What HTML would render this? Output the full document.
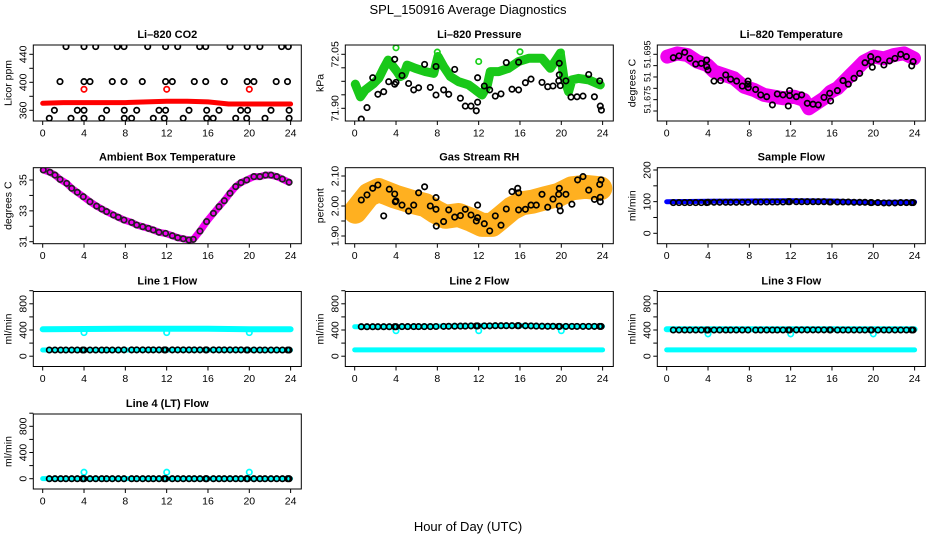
<!DOCTYPE html>
<html><head><meta charset="utf-8"><style>
html,body{margin:0;padding:0;background:#fff;}
svg{display:block;font-family:"Liberation Sans",Arial,sans-serif;}
</style></head><body>
<svg id="chart" width="936" height="540" viewBox="0 0 936 540" xmlns="http://www.w3.org/2000/svg">
<text x="468" y="14" text-anchor="middle" font-size="13">SPL_150916  Average Diagnostics</text>
<text x="468" y="531" text-anchor="middle" font-size="13">Hour of Day (UTC)</text>
</svg>
<script>
// ---------- data ----------
const xTicks = [0,4,8,12,16,20,24];
// CO2
const co2RedH = [0,2,5,8,12,14,16,18,21,24];
const co2RedV = [370,371,371,371,373,373,372,369,369,369];
const co2RedPtH = [4,12,20];
const co2RedPtV = [390,390,390];
const co2BlkH = [2.26,4.0,5.13,7.22,7.87,10.16,11.9,13.07,15.2,15.78,18.13,19.8,21.03,23.13,23.78,
 1.67,4.0,4.58,6.74,7.87,9.64,11.9,12.55,14.68,15.78,17.58,19.8,20.45,22.6,23.7,
 1.13,3.35,4.0,6.19,7.9,9.1,11.26,11.9,14.16,15.88,17.07,19.17,19.84,22.1,23.85,
 0.64,2.74,4.0,5.71,7.9,8.61,10.71,11.77,13.6,15.88,16.51,18.68,19.75,21.52,23.85];
const co2BlkV = [451,451,451,451,451,451,451,451,451,451,451,451,451,451,451,
 401,401,401,401,401,401,401,401,401,401,401,401,401,401,401,
 360,360,360,360,360,360,360,360,360,360,360,360,360,360,360,
 348.6,348.6,348.6,348.6,348.6,348.6,348.6,348.6,348.6,348.6,348.6,348.6,348.6,348.6,348.6];
// Pressure
const prGreenH = [0.06,0.55,1.03,1.84,2.32,2.81,3.23,3.61,4.1,4.42,4.74,5.07,5.87,6.84,7.65,8.06,8.61,9.26,10.06,11.03,11.68,12.32,12.81,13.13,13.94,14.9,15.87,16.84,18.13,18.94,19.58,19.9,20.23,20.71,21.03,21.68,22.65,23.78];
const prGreenV = [71.967,71.932,71.951,71.969,71.983,72.011,72.034,72.02,72.002,71.988,71.993,72.02,72.011,72.002,71.997,72.044,72.016,71.988,71.974,71.965,71.951,71.937,71.96,72.002,72.002,72.011,72.03,72.039,72.039,72.011,72.039,72.053,71.988,71.946,71.979,71.983,71.979,71.965];
const prGreenPtH = [4.0,8.0,12.0,16.0,20.0];
const prGreenPtV = [72.068,72.056,72.03,72.057,72.056];
const prBlkH = [0.64,1.19,1.74,2.25,2.81,3.29,3.87,3.87,4.0,4.58,5.22,5.71,6.19,6.77,7.32,7.87,7.87,8.61,9.1,9.68,10.23,10.71,11.26,11.77,11.9,11.9,12.55,13.07,13.61,14.16,14.68,15.23,15.87,15.87,16.52,17.07,18.13,18.68,19.2,19.75,19.81,19.81,19.9,20.45,20.94,21.52,22.1,22.65,23.2,23.72,23.78,23.88];
const prBlkV = [71.870,71.902,71.985,71.939,71.946,71.974,71.967,72.036,71.972,71.991,71.969,71.951,71.957,72.022,71.958,71.937,72.016,71.951,71.939,72.008,71.928,71.906,71.906,71.893,71.917,71.985,71.962,71.951,71.934,71.94,72.027,71.953,71.951,72.028,71.971,71.981,71.972,71.96,71.962,71.976,71.993,72.025,71.963,71.976,71.931,71.932,71.934,71.994,71.932,71.976,71.906,71.895];
// Li-820 temperature
const tmpBandH = [0.06,1.03,2.0,2.97,3.93,4.58,5.55,6.52,7.48,8.45,9.42,10.39,11.35,12.32,13.29,13.77,14.26,15.23,15.87,16.52,17.16,17.81,18.45,19.1,20.06,21.03,22.0,22.97,23.94];
const tmpBandV = [51.6940,51.6954,51.6947,51.6918,51.6903,51.6874,51.6859,51.6844,51.6807,51.6793,51.6771,51.6763,51.6756,51.6763,51.6749,51.6712,51.6727,51.6756,51.6785,51.6800,51.6829,51.6859,51.6888,51.6918,51.6940,51.6932,51.6947,51.6954,51.6932];
const tmpBlkH = [0.64,1.19,1.74,2.25,2.81,3.35,3.87,3.87,4.0,4.58,5.22,5.71,6.19,6.77,7.32,7.87,7.87,7.9,8.61,9.1,9.68,10.23,10.71,11.26,11.77,11.9,11.9,12.55,13.07,13.61,14.16,14.68,15.23,15.78,15.87,16.52,17.07,17.58,18.13,18.68,19.2,19.75,19.81,19.9,20.45,21.03,21.58,22.1,22.65,23.2,23.72,23.85];
const tmpBlkV = [51.6935,51.6943,51.6959,51.6932,51.6907,51.6910,51.6925,51.6896,51.6881,51.6832,51.6834,51.6859,51.6840,51.6832,51.6810,51.6818,51.6832,51.6803,51.6795,51.6771,51.6763,51.6727,51.6775,51.6771,51.6722,51.6790,51.6768,51.6763,51.6771,51.6734,51.6730,51.6727,51.6760,51.6778,51.6744,51.6790,51.6834,51.6818,51.6844,51.6866,51.6913,51.6940,51.6918,51.6893,51.6928,51.6903,51.6921,51.6932,51.6950,51.6940,51.6899,51.6918];
// Ambient box temperature
const ambH = [0.06,0.71,1.19,1.68,2.32,2.81,3.35,3.93,4.58,5.22,5.71,6.19,6.84,7.32,7.87,8.61,9.1,9.68,10.23,10.71,11.26,11.9,12.55,13.07,13.61,14.16,14.58,15.23,15.87,16.52,17.07,17.58,18.13,18.68,19.2,19.75,20.45,21.03,21.58,22.1,22.65,23.2,23.85];
const ambV = [35.65,35.50,35.32,35.04,34.78,34.46,34.20,33.92,33.59,33.31,33.12,32.95,32.73,32.58,32.41,32.25,32.08,31.97,31.86,31.76,31.61,31.54,31.39,31.26,31.19,31.11,31.15,31.69,32.30,32.84,33.27,33.66,34.14,34.57,34.83,35.0,35.22,35.22,35.32,35.32,35.22,35.06,34.85];
// Gas stream RH
const rhBandH = [0.06,1.35,2.32,3.93,5.55,6.84,7.81,8.77,10.06,11.35,12.32,13.29,14.26,15.23,16.19,17.16,18.45,19.74,21.03,22.32,23.78];
const rhBandV = [1.981,2.037,2.053,2.031,2.014,2.003,1.981,1.964,1.970,1.953,1.937,1.937,1.964,1.992,2.009,2.014,2.026,2.037,2.059,2.064,2.059];
const rhBlkH = [0.64,1.19,1.74,2.25,2.81,3.35,3.87,3.93,4.0,4.58,5.22,5.71,6.19,6.77,7.32,7.87,7.87,7.9,8.61,9.1,9.68,10.23,10.71,11.26,11.77,11.9,11.9,12.55,13.07,13.61,14.16,14.68,15.23,15.78,15.87,15.87,16.52,17.07,17.58,18.13,18.68,19.2,19.75,19.81,19.81,19.9,20.45,21.03,21.58,22.1,22.65,23.2,23.72,23.85,23.78,23.78];
const rhBlkV = [2.020,2.037,2.059,2.070,1.967,2.056,2.040,2.014,2.017,2.003,1.983,2.003,2.044,2.064,2.0,2.028,1.989,1.933,1.948,1.987,1.963,1.968,1.989,1.970,1.950,2.003,1.961,1.941,1.917,1.967,1.936,1.990,2.048,2.059,2.044,1.987,1.989,2.003,2.003,2.039,1.996,2.023,2.039,2.059,2.0,1.984,2.039,2.006,2.087,2.098,2.053,2.022,2.072,2.087,2.029,2.014];
// flows
const bandH = [0,4,8,12,16,20,24];
const hFlow = [0.64,1.19,1.74,2.25,2.81,3.35,3.87,4.0,4.58,5.13,5.71,6.19,6.74,7.32,7.87,8.61,9.1,9.68,10.23,10.71,11.26,11.77,11.9,12.55,13.07,13.61,14.16,14.68,15.23,15.78,15.87,16.52,17.07,17.58,18.13,18.68,19.2,19.75,19.84,20.45,21.03,21.52,22.1,22.65,23.2,23.72,23.85];
const dipH = [4,12,20];
const sfBlueV = [100,101,102,103,102,97,99];
const sfBlkV = [97,97,97,97,97,97,97,98,98,98,98,98,98,98,98,99,99,99,99,99,99,100,100,100,100,100,100,100,100,99,99,99,99,99,98,98,98,97,97,97,96,96,96,97,97,97,97];
const l1TopV = [410,415,418,420,420,412,410];
const l1LowV = [95,95,95,95,95,95,95];
const l1BlkV = [95,95,95,95,95,95,95,95,95,95,95,95,95,95,96,96,96,96,96,96,96,96,96,96,96,96,96,96,96,96,96,96,96,96,96,96,96,95,95,95,95,95,95,95,95,95,95];
const l1DipV = [360,360,360];
const l2TopV = [450,452,458,462,465,458,455];
const l2LowV = [96,96,96,96,96,96,96];
const l2BlkV = [450,450,450,450,450,450,450,450,452,452,452,452,452,452,454,455,456,458,460,460,462,462,462,462,463,465,465,466,466,466,465,464,462,460,458,456,456,455,455,455,455,455,455,455,455,455,455];
const l2DipV = [390,390,390];
const l3TopV = [410,410,410,412,412,410,410];
const l3LowV = [96,96,96,96,96,96,96];
const l3BlkV = [400,400,400,400,400,400,400,400,400,400,400,400,400,400,400,400,400,400,400,400,400,400,400,402,402,402,402,402,402,402,402,400,400,400,400,400,400,400,400,400,400,400,400,400,400,400,400];
const l3DipV = [340,340,340];
const l4CyanV = [2,2,2,2,2,2,2];
const l4BlkV = [0,0,0,0,0,0,0,0,0,0,0,0,0,0,0,0,0,0,0,0,0,0,0,0,0,0,0,0,0,0,0,0,0,0,0,0,0,0,0,0,0,0,0,0,0,0,0];
const l4DipV = [100,100,100];

// ---------- layout ----------
const NS = "http://www.w3.org/2000/svg";
const svg = document.getElementById("chart");
const colL = [33.3, 345.3, 657.3], rowT = [45, 167.7, 291.5, 414];
const PW = 268, X0OFF = 9.4, PXH = 10.33;
function mk(tag, attrs, parent){ const e=document.createElementNS(NS,tag); for(const k in attrs) e.setAttribute(k,attrs[k]); (parent||svg).appendChild(e); return e; }

function panel(cfg){
  const L=colL[cfg.col], T=rowT[cfg.row], H=cfg.h||76;
  const g = mk("g",{});
  
  
  const xs = h => L + X0OFF + h*PXH;
  const [v1,p1,v2,p2] = cfg.yref;
  const ys = v => T + p1 + (v - v1)*(p2-p1)/(v2-v1);
  const clip = mk("clipPath",{id:"c"+cfg.name},g);
  mk("rect",{x:L,y:T,width:PW,height:H},clip);
  const plot = mk("g",{"clip-path":"url(#c"+cfg.name+")"},g);
  cfg.series.forEach(s=>{
    if(s.type==="band"){
      const pts = s.h.map((h,i)=>xs(h).toFixed(1)+","+ys(s.v[i]).toFixed(1)).join(" ");
      const pl = mk("polyline",{points:pts,fill:"none",stroke:s.color,"stroke-width":s.w,"stroke-linejoin":"round","stroke-linecap":"round"},plot);
      
      
    } else {
      s.h.forEach((h,i)=>{
        const c = mk("circle",{cx:xs(h).toFixed(1),cy:ys(s.v[i]).toFixed(1),r:s.r||2.7,fill:"none",stroke:s.color,"stroke-width":s.sw||1.7},plot);
        
        
      });
    }
  });
  const box = mk("rect",{x:L,y:T,width:PW,height:H,fill:"none",stroke:"#000","stroke-width":1},g);
  
  
  xTicks.forEach(t=>{
    mk("line",{x1:xs(t),x2:xs(t),y1:T+H,y2:T+H+4,stroke:"#000","stroke-width":1},g);
    const tx = mk("text",{x:xs(t),y:T+H+15.5,"text-anchor":"middle","font-size":10.5},g);
    tx.textContent = t;
    
    
  });
  cfg.yticks.forEach(t=>{
    const y=ys(t);
    mk("line",{x1:L-4,x2:L,y1:y,y2:y,stroke:"#000","stroke-width":1},g);
  });
  cfg.ylabs.forEach((t,i)=>{
    const y=ys(t);
    const tx = mk("text",{x:0,y:0,"text-anchor":"middle","font-size":cfg.tickFs||10.5,transform:`translate(${L-7},${y}) rotate(-90)`},g);
    tx.textContent = cfg.ylabText ? cfg.ylabText[i] : t;
    
    
  });
  const ti = mk("text",{x:L+PW/2,y:T-7,"text-anchor":"middle","font-size":11,"font-weight":"bold"},g);
  ti.textContent = cfg.title;
  
  
  const yl = mk("text",{x:0,y:0,"text-anchor":"middle","font-size":10.5,transform:`translate(${L-22},${T+H/2}) rotate(-90)`},g);
  yl.textContent = cfg.ylab;
  
  
}

const CY="#00ffff", BK="#000";
panel({name:"co2-panel",col:0,row:0,title:"Li\u2013820 CO2",ylab:"Licor ppm",yref:[440,9.3,360,65.3],
  yticks:[360,380,400,420,440],ylabs:[360,400,440],
  series:[{type:"band",name:"co2-red-band",h:co2RedH,v:co2RedV,color:"#ff0000",w:5},
          {type:"pts",name:"co2-red-point",h:co2RedPtH,v:co2RedPtV,color:"#ff0000"},
          {type:"pts",name:"co2-black-point",h:co2BlkH,v:co2BlkV,color:BK}]});
panel({name:"pressure-panel",col:1,row:0,title:"Li\u2013820 Pressure",ylab:"kPa",yref:[72.05,9.3,71.90,63.3],
  yticks:[71.90,71.9375,71.975,72.0125,72.05],ylabs:[71.90,72.05],ylabText:["71.90","72.05"],
  series:[{type:"band",name:"pressure-green-band",h:prGreenH,v:prGreenV,color:"#19c819",w:9},
          {type:"pts",name:"pressure-green-point",h:prGreenPtH,v:prGreenPtV,color:"#19d019"},
          {type:"pts",name:"pressure-black-point",h:prBlkH,v:prBlkV,color:BK}]});
panel({name:"li820-temp-panel",col:2,row:0,title:"Li\u2013820 Temperature",ylab:"degrees C",yref:[51.695,9.3,51.67,66],tickFs:9,
  yticks:[51.67,51.675,51.68,51.685,51.69,51.695],ylabs:[51.675,51.685,51.695],ylabText:["51.675","51","51.695"],
  series:[{type:"band",name:"li820-temp-magenta-band",h:tmpBandH,v:tmpBandV,color:"#f000f0",w:14},
          {type:"pts",name:"li820-temp-black-point",h:tmpBlkH,v:tmpBlkV,color:BK}]});
panel({name:"ambient-temp-panel",col:0,row:1,title:"Ambient Box Temperature",ylab:"degrees C",yref:[35,12.3,31,74],
  yticks:[31,32,33,34,35],ylabs:[31,33,35],
  series:[{type:"band",name:"ambient-magenta-band",h:ambH,v:ambV,color:"#f000f0",w:7},
          {type:"pts",name:"ambient-black-point",h:ambH,v:ambV,color:"#222"}]});
panel({name:"rh-panel",col:1,row:1,title:"Gas Stream RH",ylab:"percent",yref:[2.10,8.3,1.90,68.3],
  yticks:[1.90,1.95,2.00,2.05,2.10],ylabs:[1.90,2.00,2.10],ylabText:["1.90","2.00","2.10"],
  series:[{type:"band",name:"rh-orange-band",h:rhBandH,v:rhBandV,color:"#ffb020",w:24},
          {type:"pts",name:"rh-black-point",h:rhBlkH,v:rhBlkV,color:BK}]});
panel({name:"sample-flow-panel",col:2,row:1,title:"Sample Flow",ylab:"ml/min",yref:[200,2.3,0,65.6],
  yticks:[0,50,100,150,200],ylabs:[0,100,200],
  series:[{type:"band",name:"sample-flow-blue-band",h:bandH,v:sfBlueV,color:"#0000ff",w:5},
          {type:"pts",name:"sample-flow-black-point",h:hFlow,v:sfBlkV,color:BK}]});
const flowY=[800,12.3,0,64.7], flowT=[0,200,400,600,800,1000], flowL=[0,400,800];
panel({name:"line1-flow-panel",col:0,row:2,h:75,title:"Line 1 Flow",ylab:"ml/min",yref:flowY,yticks:flowT,ylabs:flowL,
  series:[{type:"band",name:"line1-cyan-top-band",h:bandH,v:l1TopV,color:CY,w:6},
          {type:"band",name:"line1-cyan-low-band",h:bandH,v:l1LowV,color:CY,w:5},
          {type:"pts",name:"line1-cyan-dip",h:dipH,v:l1DipV,color:CY},
          {type:"pts",name:"line1-black-point",h:hFlow,v:l1BlkV,color:BK}]});
panel({name:"line2-flow-panel",col:1,row:2,h:75,title:"Line 2 Flow",ylab:"ml/min",yref:flowY,yticks:flowT,ylabs:flowL,
  series:[{type:"band",name:"line2-cyan-top-band",h:bandH,v:l2TopV,color:CY,w:5},
          {type:"band",name:"line2-cyan-low-band",h:bandH,v:l2LowV,color:CY,w:5},
          {type:"pts",name:"line2-cyan-dip",h:dipH,v:l2DipV,color:CY},
          {type:"pts",name:"line2-black-point",h:hFlow,v:l2BlkV,color:BK}]});
panel({name:"line3-flow-panel",col:2,row:2,h:75,title:"Line 3 Flow",ylab:"ml/min",yref:flowY,yticks:flowT,ylabs:flowL,
  series:[{type:"band",name:"line3-cyan-top-band",h:bandH,v:l3TopV,color:CY,w:6},
          {type:"band",name:"line3-cyan-low-band",h:bandH,v:l3LowV,color:CY,w:5},
          {type:"pts",name:"line3-cyan-dip",h:dipH,v:l3DipV,color:CY},
          {type:"pts",name:"line3-black-point",h:hFlow,v:l3BlkV,color:BK}]});
panel({name:"line4-flow-panel",col:0,row:3,h:75,title:"Line 4 (LT) Flow",ylab:"ml/min",yref:flowY,yticks:flowT,ylabs:flowL,
  series:[{type:"band",name:"line4-cyan-band",h:bandH,v:l4CyanV,color:CY,w:5},
          {type:"pts",name:"line4-cyan-dip",h:dipH,v:l4DipV,color:CY},
          {type:"pts",name:"line4-black-point",h:hFlow,v:l4BlkV,color:BK}]});
</script>
</body></html>
